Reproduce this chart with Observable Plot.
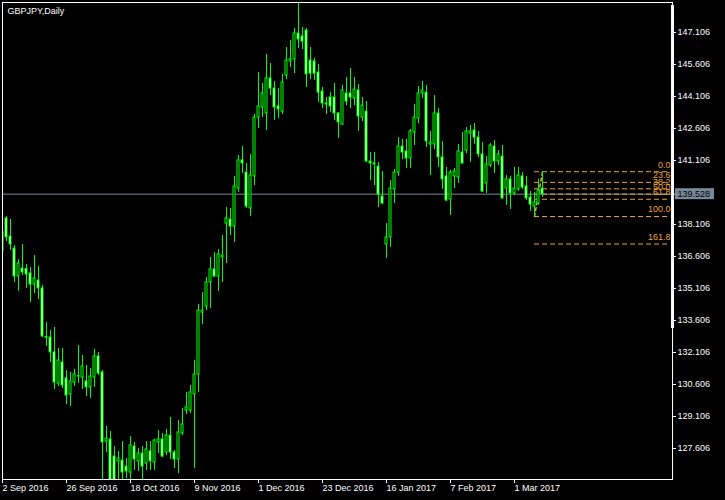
<!DOCTYPE html>
<html><head><meta charset="utf-8">
<script src="https://cdn.jsdelivr.net/npm/d3@7"></script>
<script src="https://cdn.jsdelivr.net/npm/@observablehq/plot@0.6"></script>
<style>html,body{margin:0;padding:0;background:#000;} svg{display:block}</style>
</head><body><div id="chart"></div>
<script>
// GBPJPY daily bars, index 0 = 2 Sep 2016
const open = [137.75,138.39,137.54,136.98,135.67,136.04,136.02,135.81,135.29,135.48,
135.11,132.83,132.81,132.11,130.65,131.64,130.89,130.14,130.70,130.98,
130.93,130.75,130.47,130.93,131.92,131.17,127.93,128.03,127.23,127.00,
127.04,126.76,126.48,127.70,127.00,127.37,126.90,127.47,126.95,127.89,
128.03,127.42,128.21,127.42,127.09,128.31,129.39,129.39,130.14,131.07,
133.98,134.26,135.39,136.00,135.67,136.56,138.15,138.34,138.01,139.79,
141.11,140.54,138.86,140.36,143.12,143.59,143.31,144.95,144.48,143.64,
143.40,145.09,145.75,145.84,147.06,146.92,147.20,145.79,145.75,145.23,
144.34,143.78,144.06,144.06,143.31,142.79,144.25,144.25,144.01,144.39,
143.12,143.40,141.06,140.97,140.82,139.42,137.17,137.50,139.75,140.54,
141.76,141.53,141.20,142.42,143.07,144.25,144.29,141.86,141.86,143.31,
141.25,140.36,139.28,140.36,140.31,141.48,141.57,142.37,142.51,142.18,
141.39,140.03,140.87,141.76,141.06,141.29,139.79,140.22,139.56,139.75,
140.36,139.89,139.37,138.95,139.09,139.79];
const high = [137.80,138.48,138.34,137.12,136.46,137.17,136.23,136.09,136.65,136.14,
135.25,133.51,133.14,133.28,132.29,132.29,131.26,131.17,131.31,132.43,
131.97,131.50,131.36,132.25,132.11,131.26,128.64,128.40,127.70,127.46,
127.93,127.14,128.17,127.89,127.61,127.70,127.93,127.93,128.03,128.45,
128.31,128.50,129.06,127.51,128.92,129.48,130.23,130.56,131.73,134.36,
134.92,135.62,136.56,136.79,136.93,137.59,138.90,138.86,140.36,141.34,
141.76,140.97,141.39,143.26,145.23,144.72,146.08,145.65,144.81,144.48,
145.14,146.40,146.73,147.29,148.47,147.34,147.29,146.40,145.89,145.61,
144.53,144.06,144.29,144.72,143.36,144.62,145.00,145.42,145.00,144.67,
144.06,143.87,141.48,141.48,141.01,140.59,138.15,140.17,140.68,142.18,
142.09,142.09,142.56,143.73,144.57,144.81,144.62,142.47,144.15,143.54,
141.99,140.78,140.64,140.73,141.86,142.42,142.65,142.75,142.84,142.47,
141.95,141.29,141.90,142.04,141.57,141.81,140.40,140.36,140.78,140.78,
140.54,140.36,139.65,139.61,140.22,140.58];
const low = [136.79,137.31,136.89,135.39,134.97,135.72,135.11,134.45,134.87,134.59,
132.81,132.39,131.64,130.37,130.51,130.42,129.67,129.57,130.51,130.65,
130.37,130.04,129.95,130.47,131.03,122.50,127.42,125.85,125.95,126.05,
126.05,126.20,126.05,126.58,126.53,126.05,126.58,126.58,126.58,127.37,
127.18,127.28,127.09,126.67,126.43,128.22,129.20,129.25,126.67,130.23,
133.42,134.07,134.17,135.62,134.97,135.39,136.28,137.59,137.26,139.61,
140.50,138.86,138.48,139.93,142.61,143.12,142.51,144.15,142.98,143.08,
143.26,144.90,145.47,145.18,146.36,146.31,144.53,144.90,144.86,143.82,
143.54,143.26,143.36,142.98,142.14,142.75,143.68,143.54,143.68,142.47,
142.93,141.01,140.17,139.93,138.90,139.04,136.51,137.03,139.09,140.36,
141.15,140.73,140.73,141.81,142.84,144.01,141.72,140.40,141.62,140.78,
139.75,139.18,138.53,139.79,140.03,140.92,141.43,141.01,141.86,141.25,
139.61,139.56,140.78,140.50,140.87,139.28,139.00,138.81,139.47,139.65,
139.75,139.23,138.72,138.48,139.00,139.37];
const close = [136.85,137.50,137.17,135.67,136.28,135.86,135.76,135.29,135.57,135.11,
132.86,132.80,132.11,130.70,131.73,130.56,130.09,130.75,131.08,131.00,
131.45,130.47,130.98,131.92,131.12,127.89,128.07,126.05,126.10,127.14,
126.48,126.53,127.75,127.09,127.37,126.76,127.56,127.00,127.98,128.03,
127.23,128.21,127.42,127.09,128.36,128.73,129.53,130.23,131.07,134.07,
134.07,135.39,136.00,135.67,136.70,136.65,138.39,138.01,139.89,141.11,
140.97,138.95,140.40,143.12,143.64,144.25,144.95,144.48,143.59,143.50,
144.76,145.79,145.84,147.06,146.78,146.68,145.14,145.18,145.18,144.29,
143.78,143.73,143.64,143.31,142.89,144.39,143.87,144.06,144.43,143.17,
143.68,141.06,140.97,140.92,139.51,139.09,137.50,139.79,140.54,141.76,
141.48,141.20,142.47,143.12,144.25,144.39,142.00,141.95,143.31,141.25,
140.22,139.23,140.54,140.59,141.53,140.97,142.47,142.47,142.18,141.39,
139.65,140.92,141.81,141.06,141.39,139.33,140.22,139.56,139.79,140.40,
139.84,139.33,139.04,139.14,139.70,139.528];

const dateIdx = [0,16,32,48,64,80,96,112,128];
const dateLabels = ["2 Sep 2016","26 Sep 2016","18 Oct 2016","9 Nov 2016","1 Dec 2016","23 Dec 2016","16 Jan 2017","7 Feb 2017","1 Mar 2017"];
const yTicks = [147.106,145.606,144.106,142.606,141.106,138.106,136.606,135.106,133.606,132.106,130.606,129.106,127.606];
const lastPrice = 139.528;
const fibLabels = ["0.0","23.6","38.2","50.0","61.8","100.0","161.8"];
const fibPrices = [140.58,140.08,139.78,139.53,139.29,138.48,137.19];
const fibAnchorIdx = [133,135];
const fibAnchorPrice = [138.48,140.58];
const title = "GBPJPY,Daily";

const bars = open.map((o,i)=>({i, o, h: high[i], l: low[i], c: close[i]}));
const fib = fibPrices.map((p,k)=>({p, label: fibLabels[k]}));
const fibLine = fibAnchorIdx.map((x,k)=>({x, y: fibAnchorPrice[k]}));

const W = 725, H = 500, mL = 2, mT = 2, mR = 53, mB = 21;
const yDom = [126.153, 148.512];
const xDom = [0, 167.5];
const px = (yDom[1]-yDom[0])/(H - mT - mB);   // price per pixel
const xu = (xDom[1]-xDom[0])/(W - mL - mR);   // index per pixel
const xEnd = xDom[1] - 0.5*xu*2;              // fib line end
const GREEN = "#00ff00", ORANGE = "#eba33c", SLATE = "#778899";

const chart = Plot.plot({
  width: W, height: H,
  marginLeft: mL, marginTop: mT, marginRight: mR, marginBottom: mB,
  x: {domain: xDom, axis: null},
  y: {domain: yDom, axis: null},
  style: {background: "#000", color: "#fff", fontFamily: "'Liberation Sans', Arial, sans-serif", fontSize: "9px"},
  marks: [
    Plot.ruleY([lastPrice], {stroke: SLATE}),
    Plot.ruleY(fib, {y: "p", x1: fibAnchorIdx[0], x2: 167, stroke: ORANGE, strokeDasharray: "5,3"}),
    Plot.line(fibLine, {x: "x", y: "y", stroke: ORANGE, strokeDasharray: "3,3"}),
    Plot.ruleX(bars, {x: "i", y1: "l", y2: "h", stroke: GREEN, clip: true}),
    Plot.rect(bars, {x1: d=>d.i-0.25, x2: d=>d.i+0.25, y1: "o", y2: "c",
      fill: d=> d.c < d.o ? "#fff" : "#000", stroke: GREEN, clip: true}),
    Plot.text(fib, {x: 167, y: "p", text: "label", textAnchor: "end", dy: -7, fill: ORANGE}),
    Plot.frame({stroke: "#fff"}),
    Plot.rect([0], {x1: xDom[1]-0.25*4*xu, x2: xDom[1]+0.5*4*xu*0.5+0.25, y1: yDom[1]-326*px, y2: yDom[1]-3*px, fill: "#fff"}),
    Plot.ruleY(yTicks.concat([lastPrice]), {x1: xDom[1], x2: xDom[1]+4*xu, stroke: "#fff"}),
    Plot.text(yTicks, {x: xDom[1]+4*xu, y: d=>d, text: d=>d.toFixed(3), textAnchor: "start", dx: 1, fill: "#fff"}),
    Plot.rect([lastPrice], {x1: xDom[1]+3*xu, x2: xDom[1]+42*xu, y1: d=>d-5.5*px, y2: d=>d+5.5*px, fill: SLATE}),
    Plot.text([lastPrice], {x: xDom[1]+4*xu, y: d=>d, text: d=>d.toFixed(3), textAnchor: "start", dx: 1, fill: "#000"}),
    Plot.ruleX(dateIdx, {x: d=>d, y1: yDom[0], y2: yDom[0]-4*px, stroke: "#fff"}),
    Plot.text(dateIdx, {x: d=>d, y: yDom[0], text: (d,k)=>dateLabels[k], textAnchor: "start", dy: 9, fill: "#fff"}),
    Plot.text([title], {frameAnchor: "top-left", dx: 5, dy: 5, lineAnchor: "top", fill: "#fff"})
  ]
});
document.getElementById("chart").appendChild(chart);
</script>
</body></html>
